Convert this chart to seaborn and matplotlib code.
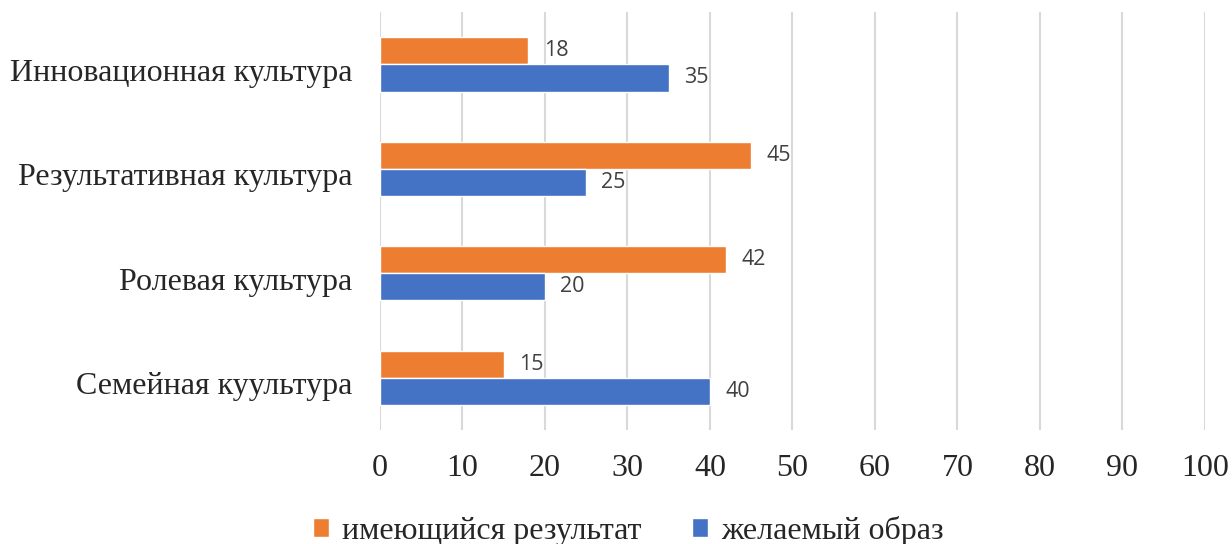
import matplotlib
matplotlib.use("Agg")
import matplotlib.pyplot as plt
import matplotlib.transforms as mtransforms
import seaborn as sns
import pandas as pd

categories = [
    "Инновационная культура",
    "Результативная культура",
    "Ролевая культура",
    "Семейная куультура",
]
series = ["имеющийся результат", "желаемый образ"]
current = [18, 45, 42, 15]
desired = [35, 25, 20, 40]
colors = ["#ED7D31", "#4472C4"]

df = pd.DataFrame({
    "Category": categories * 2,
    "Series": [series[0]] * len(categories) + [series[1]] * len(categories),
    "Value": current + desired,
})

sns.set_style("white")
plt.rcParams["font.family"] = ["Liberation Serif", "DejaVu Serif"]

fig = plt.figure(figsize=(12.32, 5.44), dpi=100)
ax = fig.add_axes([0.3084, 0.2096, 0.6696, 0.768])

sns.barplot(
    data=df,
    x="Value",
    y="Category",
    hue="Series",
    hue_order=series,
    order=categories,
    palette=colors,
    orient="h",
    width=0.52,
    saturation=1,
    ax=ax,
    legend=True,
)

for container in ax.containers:
    ax.bar_label(
        container,
        padding=11,
        fontsize=15.5,
        color="#404040",
        family=["Open Sans", "DejaVu Sans"],
    )

ax.set_xlim(0, 100)
ax.set_ylim(3.5, -0.5)
ax.set_xticks(range(0, 101, 10))
ax.xaxis.grid(True, color="#D9D9D9", linewidth=1.5)
ax.set_axisbelow(True)
ax.set_xlabel("")
ax.set_ylabel("")
ax.tick_params(axis="x", length=0, pad=17, labelsize=23)
ax.tick_params(axis="y", length=0, pad=20, labelsize=23)
for s in ax.spines.values():
    s.set_visible(False)

# nudge category labels a little lower, like in the original
shift = mtransforms.ScaledTranslation(0, -4 / 72, fig.dpi_scale_trans)
for lbl in ax.get_yticklabels():
    lbl.set_transform(lbl.get_transform() + shift)

handles, labels = ax.get_legend_handles_labels()
ax.get_legend().remove()
fig.legend(
    handles,
    labels,
    loc="center",
    bbox_to_anchor=(0.51, 0.024),
    ncol=2,
    frameon=False,
    fontsize=23,
    handlelength=0.5,
    handleheight=0.5,
    handletextpad=0.4,
    columnspacing=1.6,
)

fig.savefig("out.png", dpi=100)
